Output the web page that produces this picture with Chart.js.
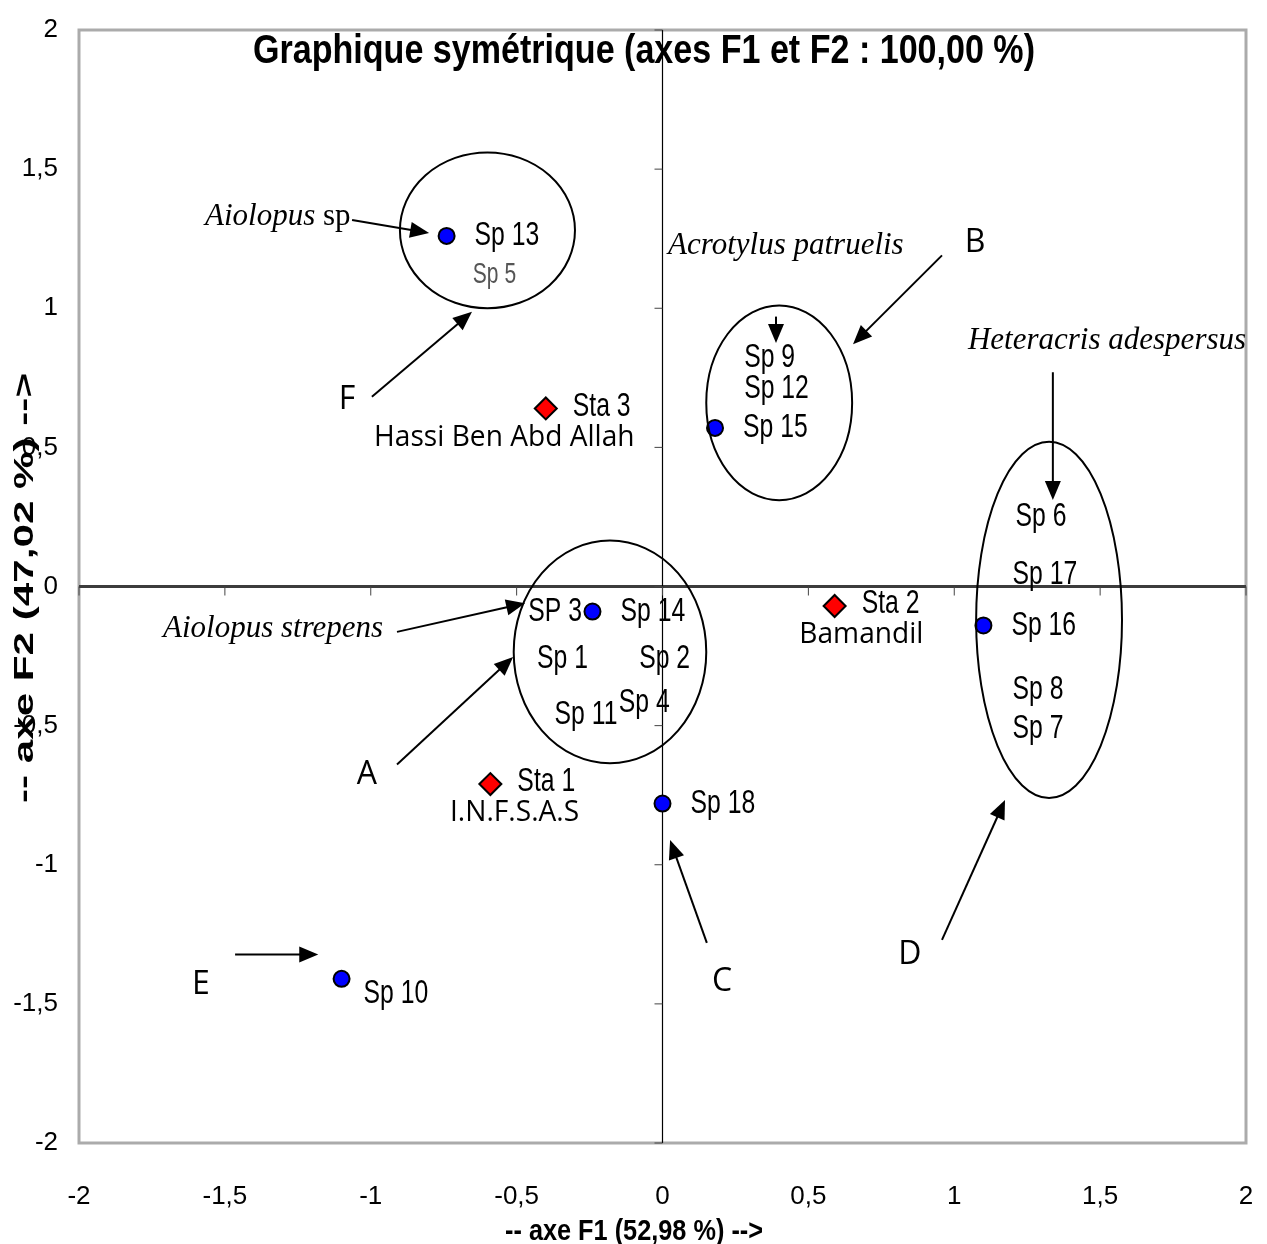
<!DOCTYPE html>
<html>
<head>
<meta charset="utf-8">
<script src="https://cdn.jsdelivr.net/npm/chart.js@4.4.1/dist/chart.umd.min.js"></script>
<style>
  html, body { margin: 0; padding: 0; background: #fff; }
  #afc { display: block; }
</style>
</head>
<body>
<canvas id="afc" width="1267" height="1244"></canvas>
<script>
// --- coordonnées AFC (F1, F2) ---
// espèces avec marqueur
const speciesNames = ['Sp 13', 'Sp 15', 'Sp 14', 'Sp 16', 'Sp 18', 'Sp 10'];
const speciesF1 = [-0.74, 0.18, -0.24, 1.10, 0.00, -1.10];
const speciesF2 = [1.26, 0.57, -0.09, -0.14, -0.78, -1.41];

// stations
const stationNames = ['Sta 1', 'Sta 2', 'Sta 3'];
const stationSites = ['I.N.F.S.A.S', 'Bamandil', 'Hassi Ben Abd Allah'];
const stationF1 = [-0.59, 0.59, -0.40];
const stationF2 = [-0.71, -0.07, 0.64];

// espèces dont seul le nom apparaît
const tagNames = ['SP 3', 'Sp 5', 'Sp 9', 'Sp 12', 'Sp 1', 'Sp 2', 'Sp 11', 'Sp 4', 'Sp 6', 'Sp 17', 'Sp 8', 'Sp 7'];
const tagF1 = [-0.46, -0.65, 0.28, 0.28, -0.43, -0.08, -0.37, -0.15, 1.21, 1.20, 1.20, 1.20];
const tagF2 = [-0.09, 1.12, 0.82, 0.71, -0.26, -0.26, -0.46, -0.42, 0.25, 0.04, -0.37, -0.51];

const axisTicks = [-2, -1.5, -1, -0.5, 0, 0.5, 1, 1.5, 2];

// groupes entourés (centre et demi-axes en unités F1/F2)
const groups = [
  { cx: -0.60, cy: 1.28, rx: 0.30, ry: 0.28 },   // F
  { cx: 0.40, cy: 0.66, rx: 0.25, ry: 0.35 },    // B
  { cx: -0.18, cy: -0.235, rx: 0.33, ry: 0.40 }, // A
  { cx: 1.325, cy: -0.12, rx: 0.25, ry: 0.64 }   // D
];

// flèches [x0, y0, x1, y1]
const arrows = [
  [-1.064, 1.317, -0.80, 1.27],
  [-0.996, 0.682, -0.653, 0.987],
  [0.389, 0.97, 0.389, 0.875],
  [0.958, 1.19, 0.653, 0.871],
  [1.338, 0.77, 1.338, 0.311],
  [0.958, -1.27, 1.174, -0.767],
  [-0.91, -0.163, -0.471, -0.06],
  [-0.91, -0.64, -0.512, -0.253],
  [0.152, -1.281, 0.026, -0.911],
  [-1.465, -1.323, -1.18, -1.323]
];

const letters = [
  { t: 'A', x: -1.013, y: -0.677 },
  { t: 'B', x: 1.071, y: 1.234 },
  { t: 'C', x: 0.204, y: -1.421 },
  { t: 'D', x: 0.848, y: -1.325 },
  { t: 'E', x: -1.582, y: -1.43 },
  { t: 'F', x: -1.081, y: 0.67 }
];

const taxa = [
  { italic: 'Aiolopus', plain: ' sp', x: -1.568, y: 1.33 },
  { italic: 'Acrotylus patruelis', plain: '', x: 0.019, y: 1.224 },
  { italic: 'Heteracris adespersus', plain: '', x: 1.047, y: 0.882 },
  { italic: 'Aiolopus strepens', plain: '', x: -1.712, y: -0.153 }
];

const fmt = v => String(v).replace('.', ',');

function drawText(ctx, text, x, y, o) {
  ctx.save();
  ctx.font = o.font;
  ctx.fillStyle = o.color || '#000';
  ctx.textBaseline = 'middle';
  ctx.textAlign = 'left';
  const w = ctx.measureText(text).width;
  const sx = o.width ? o.width / w : (o.sx || 1);
  ctx.translate(x, y);
  if (o.rotate) ctx.rotate(o.rotate);
  ctx.scale(sx, 1);
  let dx = 0;
  if (o.align === 'center') dx = -w / 2;
  else if (o.align === 'right') dx = -w;
  ctx.fillText(text, dx, 0);
  ctx.restore();
  return w * sx;
}

function arrow(ctx, x0, y0, x1, y1) {
  const a = Math.atan2(y1 - y0, x1 - x0);
  const len = 19, half = 8;
  ctx.beginPath();
  ctx.moveTo(x0, y0);
  ctx.lineTo(x1 - Math.cos(a) * len * 0.8, y1 - Math.sin(a) * len * 0.8);
  ctx.stroke();
  ctx.beginPath();
  ctx.moveTo(x1, y1);
  ctx.lineTo(x1 - Math.cos(a) * len - Math.sin(a) * half, y1 - Math.sin(a) * len + Math.cos(a) * half);
  ctx.lineTo(x1 - Math.cos(a) * len + Math.sin(a) * half, y1 - Math.sin(a) * len - Math.cos(a) * half);
  ctx.closePath();
  ctx.fill();
}

// cadre + axes passant par l'origine
const axesPlugin = {
  id: 'axesZero',
  beforeDatasetsDraw(chart) {
    const { ctx, chartArea: a, scales: { x, y } } = chart;
    ctx.save();
    ctx.strokeStyle = '#ababab';
    ctx.lineWidth = 3;
    ctx.strokeRect(a.left, a.top, a.right - a.left, a.bottom - a.top);

    const x0 = x.getPixelForValue(0), y0 = y.getPixelForValue(0);
    ctx.strokeStyle = '#3c3c3c';
    ctx.lineWidth = 3;
    ctx.beginPath();
    ctx.moveTo(a.left, y0);
    ctx.lineTo(a.right, y0);
    ctx.stroke();
    ctx.strokeStyle = '#000';
    ctx.lineWidth = 1.2;
    ctx.beginPath();
    ctx.moveTo(x0, a.top);
    ctx.lineTo(x0, a.bottom);
    ctx.stroke();

    ctx.strokeStyle = '#444';
    ctx.lineWidth = 1;
    axisTicks.forEach(v => {
      const px = x.getPixelForValue(v), py = y.getPixelForValue(v);
      ctx.beginPath();
      ctx.moveTo(px, y0);
      ctx.lineTo(px, y0 + 9);
      ctx.moveTo(x0, py);
      ctx.lineTo(x0 - 8, py);
      ctx.stroke();
    });
    ctx.restore();
  }
};

const labelFont = "33px 'Liberation Sans', Arial, sans-serif";
const labelShift = { 'Sp 10': [22, 15] };

const notesPlugin = {
  id: 'notes',
  afterDatasetsDraw(chart) {
    const { ctx, scales: { x, y } } = chart;
    const X = v => x.getPixelForValue(v);
    const Y = v => y.getPixelForValue(v);
    ctx.save();

    // titre
    drawText(ctx, 'Graphique symétrique (axes F1 et F2 : 100,00 %)', 644, 52,
      { font: "bold 41px 'Liberation Sans', Arial, sans-serif", width: 782, align: 'center' });

    // noms des espèces
    speciesNames.forEach((n, i) => {
      const s = labelShift[n] || [28, 0];
      drawText(ctx, n, X(speciesF1[i]) + s[0], Y(speciesF2[i]) + s[1], { font: labelFont, sx: 0.75 });
    });
    tagNames.forEach((n, i) => {
      const faint = n === 'Sp 5';
      drawText(ctx, n, X(tagF1[i]), Y(tagF2[i]), {
        font: faint ? "30px 'Liberation Sans', Arial, sans-serif" : labelFont,
        sx: faint ? 0.7 : 0.75, color: faint ? '#555' : '#000'
      });
    });
    stationNames.forEach((n, i) => {
      const px = X(stationF1[i]) + 27, py = Y(stationF2[i]) - 2;
      const w = drawText(ctx, n, px, py, { font: labelFont, sx: 0.75 });
      drawText(ctx, stationSites[i], px + w + 4, Y(stationF2[i]) + 29,
        { font: "29px 'Open Sans', 'Noto Sans', sans-serif", sx: 0.97, align: 'right' });
    });

    // groupes
    ctx.strokeStyle = '#000';
    ctx.fillStyle = '#000';
    ctx.lineWidth = 2;
    groups.forEach(g => {
      ctx.beginPath();
      ctx.ellipse(X(g.cx), Y(g.cy), Math.abs(X(g.cx + g.rx) - X(g.cx)), Math.abs(Y(g.cy + g.ry) - Y(g.cy)), 0, 0, Math.PI * 2);
      ctx.stroke();
    });
    arrows.forEach(r => arrow(ctx, X(r[0]), Y(r[1]), X(r[2]), Y(r[3])));
    letters.forEach(l => drawText(ctx, l.t, X(l.x), Y(l.y),
      { font: "32px 'Open Sans', 'Noto Sans', sans-serif", align: 'center' }));

    // noms latins
    taxa.forEach(t => {
      const w = drawText(ctx, t.italic, X(t.x), Y(t.y), { font: "italic 31px 'Liberation Serif', 'Times New Roman', serif" });
      if (t.plain) drawText(ctx, t.plain, X(t.x) + w, Y(t.y), { font: "31px 'Liberation Serif', 'Times New Roman', serif" });
    });

    // titres des axes
    drawText(ctx, '-- axe F1 (52,98 %) -->', 634, 1232,
      { font: "bold 29px 'Liberation Sans', Arial, sans-serif", width: 258, align: 'center' });
    drawText(ctx, '-- axe F2 (47,02 %) -->', 26, 588,
      { font: "bold 27px 'Liberation Sans', Arial, sans-serif", width: 430, align: 'center', rotate: -Math.PI / 2 });
    ctx.restore();
  }
};

const tickFont = { family: "'Liberation Sans', Arial, sans-serif", size: 26 };

new Chart(document.getElementById('afc'), {
  type: 'scatter',
  data: {
    datasets: [
      {
        label: 'Espèces',
        data: speciesF1.map((v, i) => ({ x: v, y: speciesF2[i] })),
        pointStyle: 'circle',
        pointRadius: 8,
        backgroundColor: '#0000ff',
        borderColor: '#000',
        borderWidth: 2
      },
      {
        label: 'Stations',
        data: stationF1.map((v, i) => ({ x: v, y: stationF2[i] })),
        pointStyle: 'rectRot',
        pointRadius: 11,
        backgroundColor: '#ff0000',
        borderColor: '#000',
        borderWidth: 2
      },
      {
        label: 'Espèces (noms)',
        data: tagF1.map((v, i) => ({ x: v, y: tagF2[i] })),
        pointRadius: 0
      }
    ]
  },
  options: {
    responsive: false,
    animation: false,
    events: [],
    layout: { padding: { top: 30, right: 21, left: 0, bottom: 0 } },
    plugins: { legend: { display: false }, tooltip: { enabled: false } },
    scales: {
      x: {
        type: 'linear', min: -2, max: 2,
        // tickLength sert d'écart : les graduations elles-mêmes sont dessinées sur l'axe zéro
        grid: { display: false, drawTicks: true, tickLength: 38 },
        border: { display: false },
        afterBuildTicks: s => { s.ticks = axisTicks.map(v => ({ value: v })); },
        afterFit: s => { s.height = 101; },
        ticks: { padding: 0, color: '#000', font: tickFont, callback: fmt }
      },
      y: {
        type: 'linear', min: -2, max: 2,
        grid: { display: false, drawTicks: true, tickLength: 21 },
        border: { display: false },
        afterBuildTicks: s => { s.ticks = axisTicks.map(v => ({ value: v })); },
        afterFit: s => { s.width = 79; },
        ticks: { padding: 0, color: '#000', font: tickFont, callback: fmt }
      }
    }
  },
  plugins: [axesPlugin, notesPlugin]
});
</script>
</body>
</html>
